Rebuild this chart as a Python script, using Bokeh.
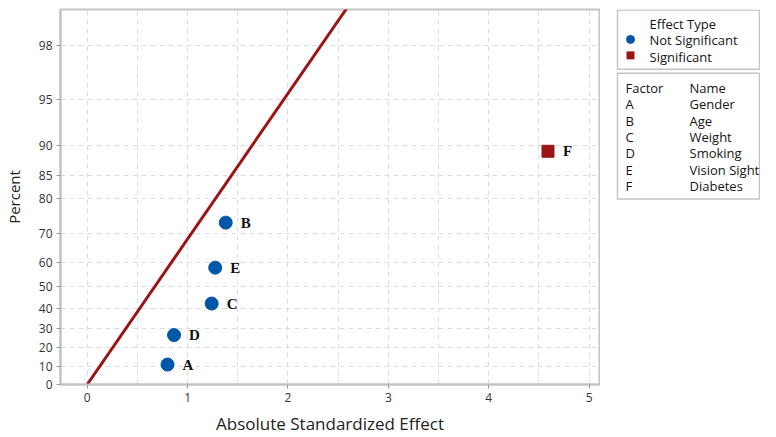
from statistics import NormalDist
from bokeh.plotting import figure
from bokeh.layouts import row
from bokeh.models import Range1d, FixedTicker
from bokeh.core.properties import value
from bokeh.embed import file_html
from bokeh.resources import INLINE

# ---- data ----
factors = ["A", "D", "C", "E", "B", "F"]
effects = [0.80, 0.865, 1.24, 1.275, 1.38, 4.59]
percents = [10.9, 26.6, 42.2, 57.8, 73.4, 89.1]
significant = [False, False, False, False, False, True]
table_factors = ["A", "B", "C", "D", "E", "F"]
table_names = ["Gender", "Age", "Weight", "Smoking", "Vision Sight", "Diabetes"]
y_tick_percents = [0, 10, 20, 30, 40, 50, 60, 70, 80, 85, 90, 95, 98]
x_ticks = [0, 1, 2, 3, 4, 5]
ref_line_effect = [0.0, 2.7]

nd = NormalDist()
def hn(pct):
    # half-normal probability scale
    return nd.inv_cdf(0.5 + pct / 200.0)

z = [hn(v) for v in percents]
ztick = [hn(v) for v in y_tick_percents]
zmax = 2.577

BLUE = "#0057a8"
RED = "#9a1616"
FRAME = "#c4c4c4"
GRID = "#dcdcdc"
FONT = "Open Sans"
TXT = "#151515"

H = 437
BT, BB = 9, 52
FBc = H - BB

p = figure(width=600, height=H, x_range=Range1d(-0.266, 5.103), y_range=Range1d(0, zmax),
           output_backend="svg", toolbar_location=None,
           min_border_left=54, min_border_top=BT, min_border_right=1, min_border_bottom=BB)
p.outline_line_color = FRAME
p.outline_line_width = 2

p.xaxis.ticker = FixedTicker(ticks=x_ticks)
p.yaxis.ticker = FixedTicker(ticks=ztick)
p.yaxis.major_label_overrides = {t: str(v) for t, v in zip(ztick, y_tick_percents)}
for ax in (p.xaxis[0], p.yaxis[0]):
    ax.axis_line_color = FRAME
    ax.axis_line_width = 2
    ax.major_tick_line_color = "#9a9a9a"
    ax.major_tick_out = 4
    ax.major_tick_in = 0
    ax.minor_tick_line_color = None
    ax.major_label_text_font = FONT
    ax.major_label_text_font_size = "12px"
    ax.major_label_text_color = "#333333"
    ax.axis_label_text_font = FONT
    ax.axis_label_text_font_style = "normal"
    ax.axis_label_text_color = "#222222"
p.xaxis.axis_label = "Absolute Standardized Effect"
p.yaxis.axis_label = "Percent"
p.xaxis.axis_label_text_font_size = "17px"
p.yaxis.axis_label_text_font_size = "15px"
p.xaxis.major_label_standoff = 4
p.xaxis.axis_label_standoff = 7
p.yaxis.major_label_standoff = 4
p.yaxis.axis_label_standoff = 12

p.xgrid.ticker = FixedTicker(ticks=[i * 0.5 for i in range(11)])
for g in (p.xgrid[0], p.ygrid[0]):
    g.grid_line_color = GRID
    g.grid_line_dash = "5 4"
    g.grid_line_width = 1

# reference line (x = z)
p.line(ref_line_effect, ref_line_effect, line_color=RED, line_width=3)

ns_x = [e for e, s in zip(effects, significant) if not s]
ns_z = [v for v, s in zip(z, significant) if not s]
s_x = [e for e, s in zip(effects, significant) if s]
s_z = [v for v, s in zip(z, significant) if s]
p.scatter(ns_x, ns_z, marker="circle", size=13, fill_color=BLUE, line_color=BLUE)
p.scatter(s_x, s_z, marker="square", size=12, fill_color=RED, line_color=RED)

p.text(effects, z, text=factors, x_offset=15, text_baseline="middle", text_align="left",
       text_font=value("Liberation Serif"), text_font_style="bold", text_font_size="15px",
       text_color="#111111")

# ---- legend panel: coordinates in canvas pixels, y downward from canvas top ----
q = figure(width=160, height=H, x_range=Range1d(0, 160), y_range=Range1d(FBc, BT),
           output_backend="svg", toolbar_location=None,
           x_axis_location=None, y_axis_location=None,
           min_border_left=0, min_border_right=0, min_border_top=BT, min_border_bottom=BB)
q.grid.visible = False
q.outline_line_color = None
q.quad(left=[17, 17], right=[159, 159], top=[9.5, 73], bottom=[69, 199],
       fill_color=None, line_color=FRAME, line_width=1.5)

def txt(xs, ys, texts):
    q.text(xs, ys, text=texts, text_baseline="middle", text_font=value(FONT),
           text_font_size="13px", text_color=TXT)

txt([49], [24], ["Effect Type"])
q.scatter([30], [39], marker="circle", size=8, fill_color=BLUE, line_color=BLUE)
txt([49], [40], ["Not Significant"])
q.scatter([30], [55], marker="square", size=7, fill_color=RED, line_color=RED)
txt([49], [57], ["Significant"])
txt([25, 89], [88, 88], ["Factor", "Name"])
row_y = [104 + i * 16.4 for i in range(len(table_factors))]
txt([25] * len(table_factors), row_y, table_factors)
txt([89] * len(table_factors), row_y, table_names)

layout = row(p, q)
open("out.html", "w").write(file_html(layout, INLINE))
